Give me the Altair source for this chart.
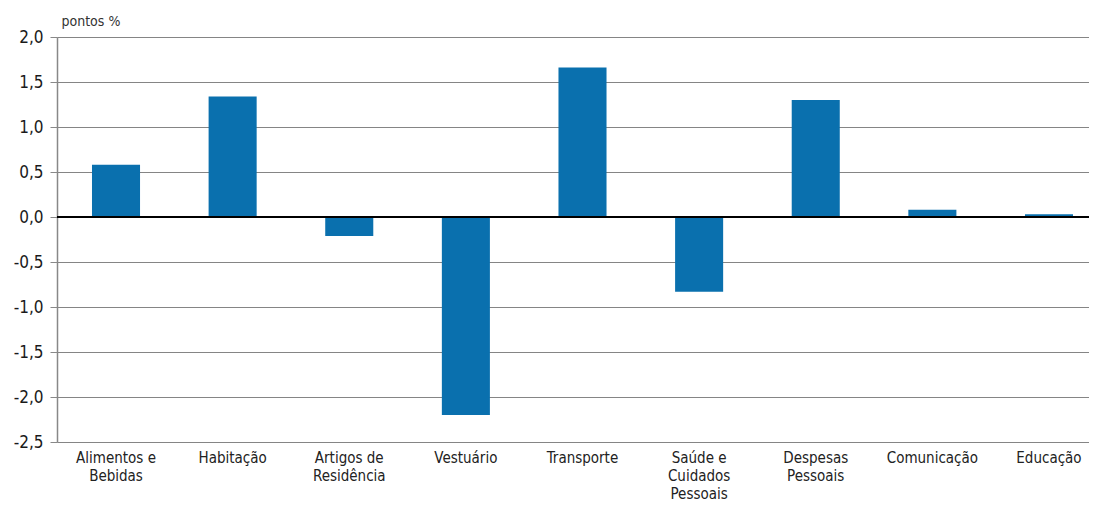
import altair as alt
import pandas as pd

categories = [
    "Alimentos e|Bebidas",
    "Habitação",
    "Artigos de|Residência",
    "Vestuário",
    "Transporte",
    "Saúde e|Cuidados|Pessoais",
    "Despesas|Pessoais",
    "Comunicação",
    "Educação",
]
values = [0.58, 1.34, -0.21, -2.20, 1.66, -0.83, 1.30, 0.08, 0.03]
y_ticks = [2.0, 1.5, 1.0, 0.5, 0.0, -0.5, -1.0, -1.5, -2.0, -2.5]

df = pd.DataFrame({"cat": categories, "val": values})
FONT = "'DejaVu Sans Condensed', 'Liberation Sans Narrow', Roboto, sans-serif"

x_enc = alt.X(
    "cat:N",
    sort=categories,
    scale=alt.Scale(paddingInner=0.588, paddingOuter=0.30, range=[0, 1051]),
    axis=alt.Axis(
        title=None,
        labelAngle=0,
        labelExpr="split(datum.label, '|')",
        labelFont=FONT,
        labelFontSize=15,
        labelColor="#222222",
        labelPadding=8,
        labelLineHeight=18,
        labelBaseline="top",
        labelOverlap=False,
        labelBound=False,
        ticks=False,
        domain=False,
        grid=False,
    ),
)

y_scale = alt.Scale(domain=[-2.5, 2.0], nice=False, zero=False)

bars = alt.Chart(df).mark_bar(color="#0a70ae").encode(
    x=x_enc,
    y=alt.Y(
        "val:Q",
        scale=y_scale,
        axis=alt.Axis(
            title="pontos %",
            titleAngle=0,
            titleAlign="left",
            titleBaseline="bottom",
            titleX=4,
            titleY=-9,
            titleFont=FONT,
            titleFontSize=14,
            titleFontWeight="normal",
            titleColor="#333333",
            values=y_ticks,
            labelExpr="replace(replace(format(datum.value, '.1f'), '.', ','), '\u2212', '-')",
            labelFont=FONT,
            labelFontSize=17,
            labelColor="#1a1a1a",
            labelPadding=7,
            tickSize=7,
            tickColor="#888888",
            domainColor="#888888",
            domainWidth=1.5,
            grid=True,
            gridColor="#858585",
            gridWidth=1,
        ),
    ),
)

zero = alt.Chart(pd.DataFrame({"z": [0.0]})).mark_rule(color="#000000", strokeWidth=2).encode(
    y=alt.Y("z:Q", scale=y_scale)
)

chart = (
    alt.layer(bars, zero)
    .properties(
        width=1032,
        height=405,
        autosize=alt.AutoSizeParams(type="none"),
        padding={"left": 49, "top": 29, "right": 0, "bottom": 64},
    )
    .configure_view(fill="#e4e6e9", stroke=None)
    .configure(background="white")
)

chart.save("out.html", embed_options={"renderer": "svg", "actions": False})
